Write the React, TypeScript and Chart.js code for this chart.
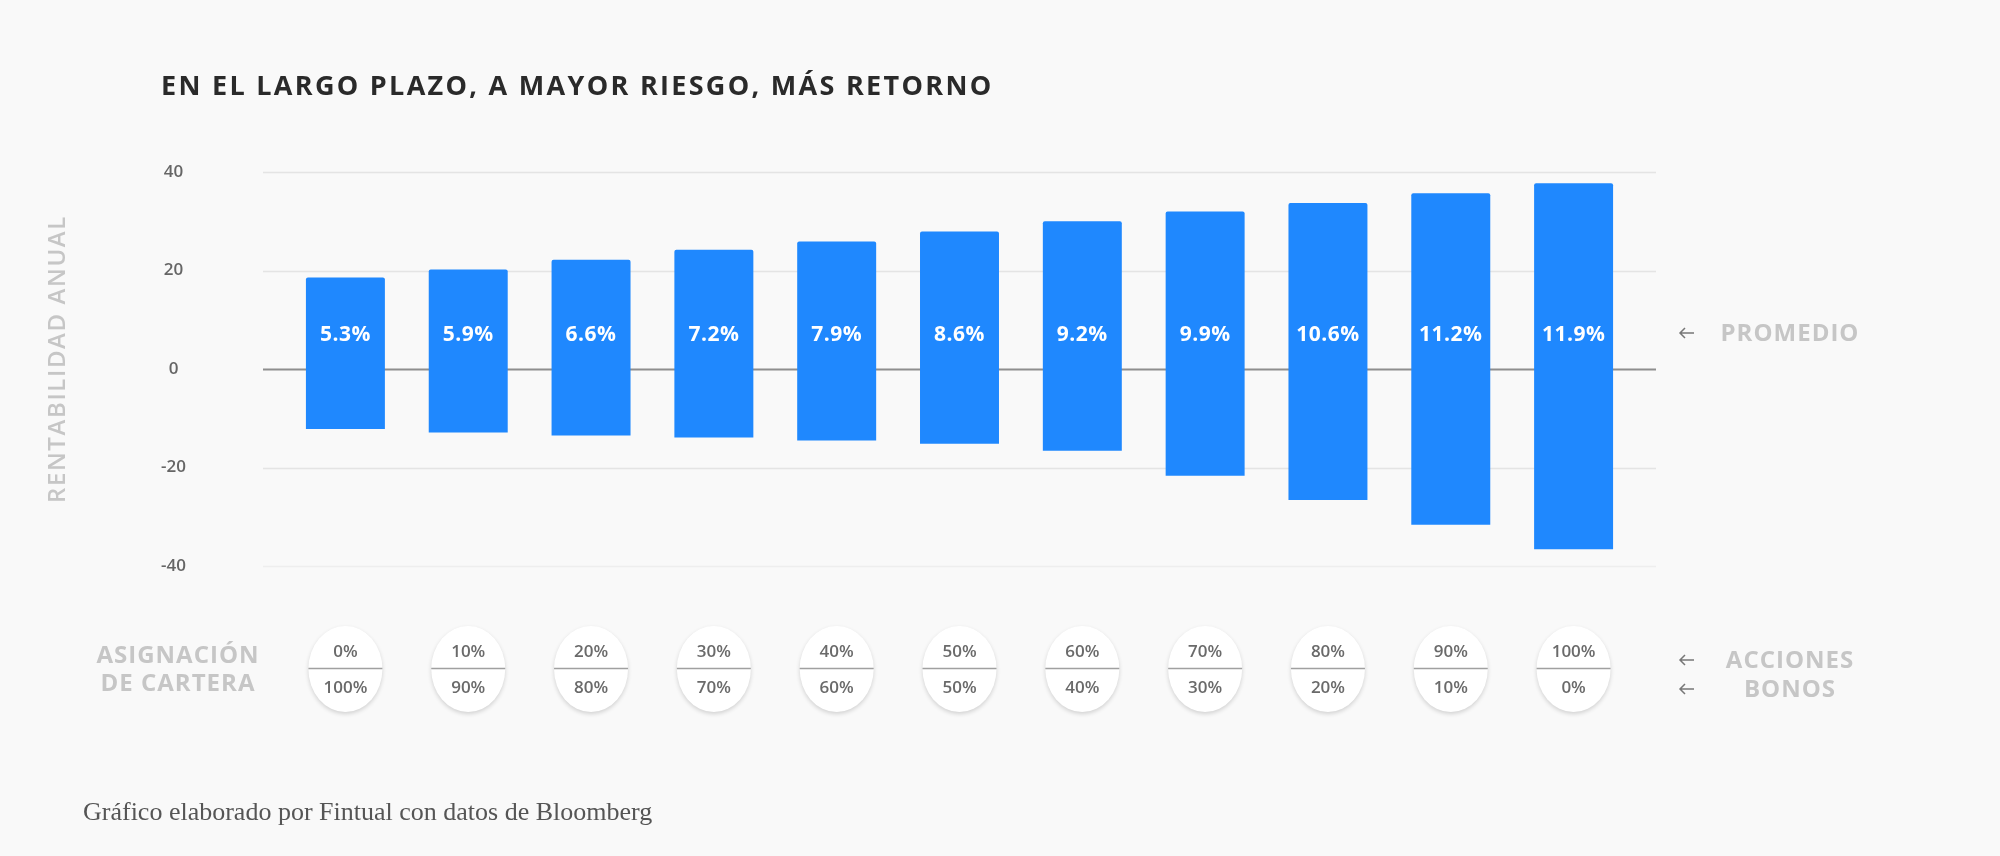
import { useEffect, useRef } from 'react';
import Chart from 'chart.js/auto';

// ---- data ----
const acciones = ['0%', '10%', '20%', '30%', '40%', '50%', '60%', '70%', '80%', '90%', '100%'];
const bonos = ['100%', '90%', '80%', '70%', '60%', '50%', '40%', '30%', '20%', '10%', '0%'];
const promedio = [5.3, 5.9, 6.6, 7.2, 7.9, 8.6, 9.2, 9.9, 10.6, 11.2, 11.9];
const maxReturn = [18.6, 20.2, 22.2, 24.2, 25.9, 27.9, 30.0, 32.0, 33.7, 35.7, 37.7];
const minReturn = [-12.2, -12.9, -13.5, -13.9, -14.5, -15.2, -16.6, -21.7, -26.6, -31.6, -36.6];
const yTicks = [-40, -20, 0, 20, 40];
const labelLevel = 7; // value at which the average labels are written

const TITLE = 'EN EL LARGO PLAZO, A MAYOR RIESGO, MÁS RETORNO';
const Y_TITLE = 'RENTABILIDAD ANUAL';
const FOOTNOTE = 'Gráfico elaborado por Fintual con datos de Bloomberg';

const SANS = '"Open Sans", "DejaVu Sans", sans-serif';
const BLUE = '#1f88fe';
const LIGHT = '#c6c6c6';

function arrow(ctx: CanvasRenderingContext2D, x0: number, x1: number, y: number) {
  ctx.save();
  ctx.strokeStyle = '#777';
  ctx.lineWidth = 1.5;
  ctx.beginPath();
  ctx.moveTo(x1, y);
  ctx.lineTo(x0, y);
  ctx.moveTo(x0 + 5, y - 5);
  ctx.lineTo(x0, y);
  ctx.lineTo(x0 + 5, y + 5);
  ctx.stroke();
  ctx.restore();
}

const decorPlugin = {
  id: 'decor',
  beforeDatasetsDraw(chart: any) {
    const { ctx, scales, chartArea } = chart;
    const y = scales.y;
    const left = chartArea.left - 21;
    const right = chartArea.right + 21;
    ctx.save();
    yTicks.forEach((v) => {
      const py = Math.round(y.getPixelForValue(v)) + 0.5;
      ctx.strokeStyle = v === 0 ? '#8e8e8e' : v === -40 ? '#eeeeee' : '#e4e4e4';
      ctx.lineWidth = v === 0 ? 2 : 1.5;
      ctx.beginPath();
      ctx.moveTo(left, py);
      ctx.lineTo(right, py);
      ctx.stroke();
    });
    ctx.restore();
  },
  afterDatasetsDraw(chart: any) {
    const { ctx, scales } = chart;
    const x = scales.x;
    const y = scales.y;
    ctx.save();
    // average labels inside bars
    ctx.fillStyle = '#ffffff';
    ctx.font = `700 21px ${SANS}`;
    ctx.textAlign = 'center';
    ctx.textBaseline = 'middle';
    (ctx as any).letterSpacing = '0.5px';
    const ly = y.getPixelForValue(labelLevel);
    promedio.forEach((v, i) => {
      ctx.fillText(v.toFixed(1) + '%', x.getPixelForValue(i), ly);
    });
    (ctx as any).letterSpacing = '0px';

    // allocation pills
    const cy = 669;
    const rx = 37;
    const ry = 43;
    acciones.forEach((a, i) => {
      const cx = x.getPixelForValue(i);
      ctx.save();
      ctx.shadowColor = 'rgba(0,0,0,0.16)';
      ctx.shadowBlur = 4;
      ctx.shadowOffsetY = 2;
      ctx.fillStyle = '#ffffff';
      ctx.beginPath();
      ctx.ellipse(cx, cy, rx, ry, 0, 0, Math.PI * 2);
      ctx.fill();
      ctx.restore();
      ctx.strokeStyle = '#a0a0a0';
      ctx.lineWidth = 1.5;
      ctx.beginPath();
      ctx.moveTo(cx - rx, cy - 0.5);
      ctx.lineTo(cx + rx, cy - 0.5);
      ctx.stroke();
      ctx.fillStyle = '#6a6a6a';
      ctx.font = `600 17px ${SANS}`;
      ctx.textAlign = 'center';
      ctx.textBaseline = 'middle';
      ctx.fillText(a, cx, 652);
      ctx.fillText(bonos[i], cx, 688);
    });

    // title
    ctx.fillStyle = '#2a2a2a';
    ctx.font = `700 27px ${SANS}`;
    ctx.textAlign = 'left';
    ctx.textBaseline = 'alphabetic';
    (ctx as any).letterSpacing = '2.3px';
    ctx.fillText(TITLE, 161, 95);

    // light grey side labels
    ctx.fillStyle = LIGHT;
    ctx.font = `700 24px ${SANS}`;
    (ctx as any).letterSpacing = '1px';
    ctx.textAlign = 'center';
    ctx.textBaseline = 'middle';
    ctx.fillText('ASIGNACIÓN', 178, 656);
    ctx.fillText('DE CARTERA', 178, 684);
    ctx.fillText('PROMEDIO', 1790, 334);
    ctx.fillText('ACCIONES', 1790, 661);
    ctx.fillText('BONOS', 1790, 690);

    // rotated y title
    ctx.save();
    ctx.translate(58, 359);
    ctx.rotate(-Math.PI / 2);
    ctx.font = `600 24px ${SANS}`;
    (ctx as any).letterSpacing = '1.6px';
    ctx.fillText(Y_TITLE, 0, 0);
    ctx.restore();
    (ctx as any).letterSpacing = '0px';

    arrow(ctx, 1680, 1694, 333);
    arrow(ctx, 1680, 1694, 660);
    arrow(ctx, 1680, 1694, 689);

    // footnote
    ctx.fillStyle = '#555555';
    ctx.font = `26px "Liberation Serif", "DejaVu Serif", serif`;
    ctx.textAlign = 'left';
    ctx.textBaseline = 'alphabetic';
    ctx.fillText(FOOTNOTE, 83, 820);
    ctx.restore();
  },
};

export default function App() {
  const ref = useRef<HTMLCanvasElement | null>(null);

  useEffect(() => {
    document.body.style.margin = '0';
    document.body.style.background = '#f9f9f9';
    if (!ref.current) return;
    const chart = new Chart(ref.current, {
      type: 'bar',
      data: {
        labels: acciones,
        datasets: [
          {
            data: minReturn.map((m, i) => [m, maxReturn[i]]) as any,
            backgroundColor: BLUE,
            borderRadius: { topLeft: 2, topRight: 2, bottomLeft: 0, bottomRight: 0 },
            borderSkipped: false,
            barPercentage: 0.643,
            categoryPercentage: 1,
          },
        ],
      },
      options: {
        animation: false,
        responsive: true,
        maintainAspectRatio: false,
        devicePixelRatio: 1,
        layout: { padding: { top: 172, bottom: 290, left: 0, right: 365 } },
        plugins: { legend: { display: false }, tooltip: { enabled: false }, title: { display: false } },
        scales: {
          x: { display: false, offset: true },
          y: {
            min: -40,
            max: 40,
            afterFit: (scale: any) => {
              scale.width = 284;
            },
            afterBuildTicks: (scale: any) => {
              scale.ticks = yTicks.map((v) => ({ value: v }));
            },
            grid: { display: false, drawTicks: false },
            border: { display: false },
            ticks: {
              crossAlign: 'center',
              padding: 98,
              color: '#666666',
              font: { family: SANS, size: 17, weight: 600 },
            },
          },
        },
      },
      plugins: [decorPlugin],
    });
    return () => chart.destroy();
  }, []);

  return (
    <div style={{ width: 2000, height: 856, position: 'relative', background: '#f9f9f9' }}>
      <canvas ref={ref} />
    </div>
  );
}
